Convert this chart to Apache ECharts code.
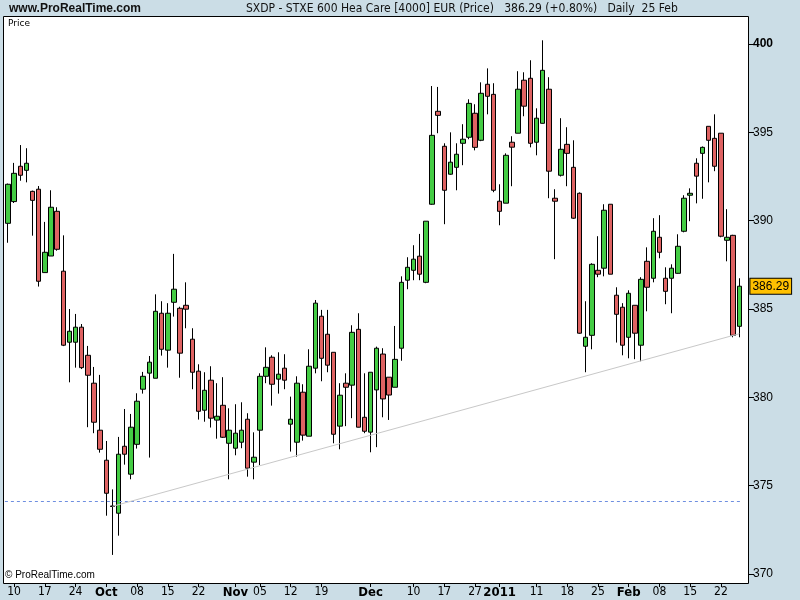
<!DOCTYPE html>
<html>
<head>
<meta charset="utf-8">
<script src="https://cdn.jsdelivr.net/npm/echarts@6/dist/echarts.min.js"></script>
<style>html,body{margin:0;padding:0;background:#cbdde6}#c{width:800px;height:600px}</style>
</head>
<body>
<div id="c"></div>
<script>
const dates = [
'2010-09-09','2010-09-10','2010-09-13','2010-09-14','2010-09-15','2010-09-16','2010-09-17','2010-09-20','2010-09-21','2010-09-22','2010-09-23','2010-09-24','2010-09-27','2010-09-28','2010-09-29','2010-09-30',
'2010-10-01','2010-10-04','2010-10-05','2010-10-06','2010-10-07','2010-10-08','2010-10-11','2010-10-12','2010-10-13','2010-10-14','2010-10-15','2010-10-18','2010-10-19','2010-10-20','2010-10-21','2010-10-22','2010-10-25','2010-10-26','2010-10-27','2010-10-28','2010-10-29',
'2010-11-01','2010-11-02','2010-11-03','2010-11-04','2010-11-05','2010-11-08','2010-11-09','2010-11-10','2010-11-11','2010-11-12','2010-11-15','2010-11-16','2010-11-17','2010-11-18','2010-11-19','2010-11-22','2010-11-23','2010-11-24','2010-11-25','2010-11-26','2010-11-29','2010-11-30',
'2010-12-01','2010-12-02','2010-12-03','2010-12-06','2010-12-07','2010-12-08','2010-12-09','2010-12-10','2010-12-13','2010-12-14','2010-12-15','2010-12-16','2010-12-17','2010-12-20','2010-12-21','2010-12-22','2010-12-23','2010-12-27','2010-12-28','2010-12-29','2010-12-30',
'2011-01-03','2011-01-04','2011-01-05','2011-01-06','2011-01-07','2011-01-10','2011-01-11','2011-01-12','2011-01-13','2011-01-14','2011-01-17','2011-01-18','2011-01-19','2011-01-20','2011-01-21','2011-01-24','2011-01-25','2011-01-26','2011-01-27','2011-01-28','2011-01-31',
'2011-02-01','2011-02-02','2011-02-03','2011-02-04','2011-02-07','2011-02-08','2011-02-09','2011-02-10','2011-02-11','2011-02-14','2011-02-15','2011-02-16','2011-02-17','2011-02-18','2011-02-21','2011-02-22','2011-02-23','2011-02-24','2011-02-25'
];
const openPrices = [
389.85,391.08,393.08,392.85,391.66,391.78,387.06,388.0,390.53,387.14,383.12,383.12,383.97,382.38,380.8,378.14,
376.44,373.85,373.44,377.23,375.65,377.34,380.46,381.37,381.08,384.76,382.67,385.38,385.04,385.21,383.29,381.48,379.27,380.97,378.71,379.55,377.4,
377.12,377.46,378.76,376.33,378.14,381.19,382.27,381.03,381.65,378.48,377.46,380.29,377.8,381.65,384.59,383.57,382.55,378.37,380.8,380.69,383.85,378.87,
378.03,380.42,382.45,381.14,380.57,382.78,386.63,387.19,387.99,386.51,390.93,396.19,394.21,392.63,393.02,394.38,394.72,396.08,394.55,397.72,397.15,
391.1,390.99,394.44,394.95,397.95,398.06,394.44,395.51,397.44,391.27,392.57,394.32,393.02,391.55,382.89,383.51,387.19,387.31,390.93,385.78,385.1,
383.4,385.21,382.95,387.7,386.74,389.06,386.74,386.74,387.02,389.4,391.44,393.25,393.81,395.34,394.66,394.95,388.89,389.17,384.02
];
const closePrices = [
392.06,392.68,392.57,393.25,391.15,386.57,388.21,390.76,388.38,382.95,383.74,383.97,381.68,381.25,378.59,377.06,
374.57,373.82,376.78,376.78,378.31,379.78,381.19,381.99,384.87,382.72,384.76,386.12,382.5,384.99,381.42,379.21,380.4,378.82,378.93,377.74,378.14,
377.97,378.14,375.99,376.61,381.19,381.7,380.74,381.31,380.97,378.76,380.8,377.86,381.76,385.33,382.21,381.82,377.91,380.12,380.57,383.68,378.31,378.08,
381.42,382.78,379.91,380.13,382.15,386.51,387.36,387.82,386.97,389.97,394.83,395.96,391.72,393.31,393.76,394.61,396.64,394.15,397.21,397.04,391.72,
390.53,393.7,394.16,397.44,396.48,394.38,395.8,398.51,392.8,391.1,394.04,393.81,390.14,383.63,383.4,387.53,386.97,390.59,386.97,384.7,382.95,
385.89,383.63,386.68,386.23,389.4,388.21,386.0,387.31,388.55,391.27,391.55,392.52,394.15,394.55,393.08,389.12,389.06,383.51,386.29
];
const lowPrices = [
388.75,391.0,392.26,392.17,389.15,386.27,387.06,388.0,388.3,382.9,380.85,381.68,381.6,378.31,377.97,376.87,
373.3,371.08,372.17,376.19,375.36,377.1,380.21,376.59,381.08,382.36,381.68,384.57,381.11,383.91,380.46,378.74,378.62,378.29,377.66,377.7,375.36,
376.72,377.12,375.51,375.36,376.16,380.8,379.53,380.21,380.46,376.93,376.64,377.55,377.8,381.36,380.91,381.42,377.4,377.06,378.37,378.82,378.3,377.97,
376.89,377.18,378.87,378.72,380.57,382.07,386.12,386.63,386.63,386.46,390.9,394.95,389.8,392.6,391.72,393.14,394.61,393.98,394.5,396.02,391.61,
389.74,390.99,391.95,394.95,395.91,394.15,393.7,395.5,391.27,387.82,392.5,391.95,390.1,383.6,381.42,382.72,386.8,386.85,386.97,383.1,382.38,
382.21,382.16,382.04,384.87,386.51,387.87,385.27,384.76,387.0,389.34,389.97,390.98,391.24,392.17,392.8,389.06,387.7,383.4,383.4
];
const highPrices = [
392.1,393.27,394.28,394.1,391.7,391.96,389.93,391.72,390.76,389.17,385.0,384.72,384.15,382.91,381.72,381.27,
377.53,374.79,377.76,379.34,379.06,380.23,381.44,382.34,385.83,385.44,385.33,388.12,385.13,386.51,383.91,381.87,381.42,381.76,380.8,381.14,379.38,
379.61,379.72,379.1,378.02,381.36,382.83,382.38,382.55,382.44,380.04,381.19,380.74,382.72,385.51,384.95,384.95,382.55,380.8,381.36,384.08,384.76,381.36,
381.42,382.87,382.78,381.14,384.04,386.85,387.93,388.61,389.25,389.97,397.62,397.57,394.38,395.0,394.38,395.46,396.87,396.59,397.83,398.62,397.78,
392.06,393.81,394.78,398.46,398.4,399.08,396.36,400.21,398.12,391.78,395.8,395.29,394.55,391.6,385.44,387.59,389.12,390.93,390.93,386.23,385.33,
386.06,385.21,386.8,388.49,390.14,390.31,387.36,387.53,389.23,391.44,391.83,393.53,394.2,395.34,396.02,394.95,390.65,389.2,386.74
];
const tickDates = ['2010-09-10','2010-09-17','2010-09-24','2010-10-01','2010-10-08','2010-10-15','2010-10-22','2010-11-01','2010-11-05','2010-11-12','2010-11-19','2010-12-01','2010-12-10','2010-12-17','2010-12-27','2011-01-03','2011-01-11','2011-01-18','2011-01-25','2011-02-01','2011-02-08','2011-02-15','2011-02-22'];
const tickTexts = ['10','17','24','Oct','08','15','22','Nov','05','12','19','Dec','10','17','27','2011','11','18','25','Feb','08','15','22'];
const boldTickTexts = ['Oct','Nov','Dec','2011','Feb'];
const yMin = 370, yMax = 400, yStep = 5;
const lastPrice = 386.29;
const supportLevel = 374.12;
const trendLine = [['2010-10-04', 373.83], ['2011-02-25', 383.6]];

const candles = dates.map((d, i) => [openPrices[i], closePrices[i], lowPrices[i], highPrices[i]]);
const narrow = '"Liberation Sans Narrow","DejaVu Sans Condensed","Liberation Sans",sans-serif';
const isTick = (idx, val) => tickDates.indexOf(val) >= 0;

const chart = echarts.init(document.getElementById('c'), null, {renderer: 'canvas'});
chart.setOption({
  animation: false,
  backgroundColor: '#cbdde6',
  title: [
    {text: 'www.ProRealTime.com', left: 9, top: 3, padding: 0,
     textStyle: {fontSize: 12, fontWeight: 'bold', color: '#111', fontFamily: '"Liberation Sans",Arial,sans-serif'}},
    {text: 'SXDP - STXE 600 Hea Care [4000] EUR (Price)   386.29 (+0.80%)   Daily  25 Feb', left: 246, top: 3, padding: 0,
     textStyle: {fontSize: 12, fontWeight: 'normal', color: '#111', fontFamily: narrow}}
  ],
  graphic: [
    {type: 'rect', z: -10, shape: {x: 3.5, y: 16.5, width: 745, height: 567},
     style: {fill: '#ffffff', stroke: '#000000', lineWidth: 1}},
    {type: 'text', z: 10, left: 8, top: 19,
     style: {text: 'Price', fill: '#000', font: '9px "DejaVu Sans",sans-serif'}},
    {type: 'text', z: 10, left: 5, top: 570,
     style: {text: '\u00a9 ProRealTime.com', fill: '#000', font: '10px "Liberation Sans",Arial,sans-serif'}}
  ],
  grid: {left: 4.9, right: 57.6, top: 44, bottom: 26, containLabel: false},
  xAxis: {
    type: 'category', data: dates, boundaryGap: true, offset: 9,
    axisLine: {show: false},
    axisTick: {show: true, interval: isTick, alignWithLabel: true, length: 4, lineStyle: {color: '#000'}},
    axisLabel: {
      interval: isTick, margin: 3, color: '#000', fontSize: 12, fontFamily: narrow,
      formatter: function (v) {
        const i = tickDates.indexOf(v);
        if (i < 0) return '';
        const t = tickTexts[i];
        return boldTickTexts.indexOf(t) >= 0 ? '{b|' + t + '}' : t;
      },
      rich: {b: {fontWeight: 'bold', fontSize: 13, fontFamily: narrow, color: '#000'}}
    },
    splitLine: {show: false}
  },
  yAxis: {
    type: 'value', position: 'right', min: yMin, max: yMax, interval: yStep, offset: 6.6,
    axisLine: {show: false},
    axisTick: {show: true, length: 5, lineStyle: {color: '#000'}},
    axisLabel: {
      margin: 4, color: '#000', fontSize: 12, fontFamily: '"Liberation Sans",Arial,sans-serif',
      formatter: function (v) { return v === yMax ? '{b|' + v + '}' : String(v); },
      rich: {b: {fontWeight: 'bold', fontSize: 12, color: '#000'}}
    },
    splitLine: {show: false}
  },
  series: [{
    type: 'candlestick',
    data: candles,
    clip: false,
    barWidth: 5,
    itemStyle: {color: '#44cc44', color0: '#de6262', borderColor: '#000', borderColor0: '#000', borderWidth: 1},
    markLine: {
      silent: true, symbol: ['none', 'none'], animation: false,
      data: [
        {yAxis: supportLevel, lineStyle: {type: [3, 3], color: '#6f8fe0', width: 1}, label: {show: false}},
        [{coord: trendLine[0]}, {coord: trendLine[1], lineStyle: {type: 'solid', color: '#c8c8c8', width: 1}, label: {show: false}}]
      ]
    }
  }, {
    type: 'line',
    data: [],
    markLine: {
      silent: true, symbol: ['none', 'none'], animation: false,
      lineStyle: {color: 'rgba(0,0,0,0)', width: 0},
      data: [{yAxis: lastPrice}],
      label: {show: true, position: 'end', distance: 8, formatter: lastPrice.toFixed(2),
              backgroundColor: '#ffc000', borderColor: '#000', borderWidth: 1, padding: [2, 2, 1, 2],
              color: '#000', fontSize: 12, fontFamily: '"Liberation Sans",Arial,sans-serif'}
    }
  }]
});
</script>
</body>
</html>
